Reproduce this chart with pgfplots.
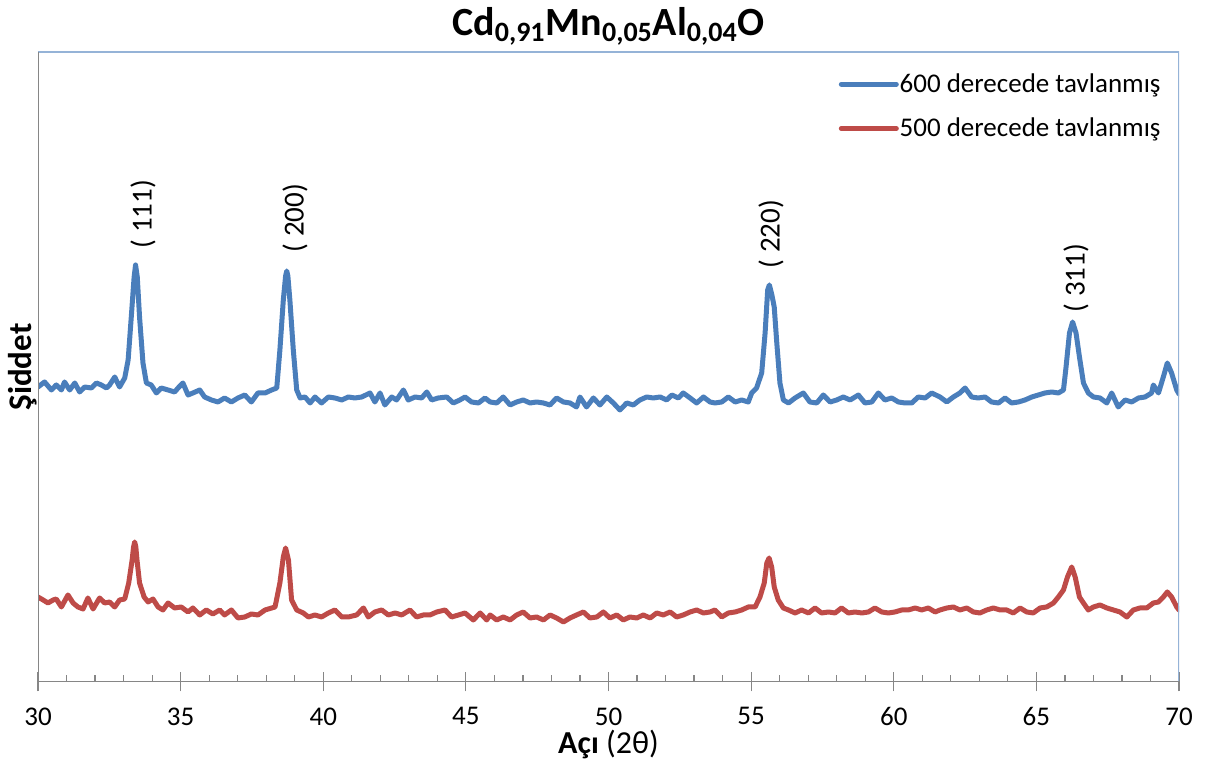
\documentclass[border=0pt]{standalone}
\usepackage{pgfplots}
\pgfplotsset{compat=1.18}
\usepackage{fontspec}
\setmainfont{Carlito}
\definecolor{xblue}{HTML}{4A7EBB}
\definecolor{xred}{HTML}{BE4B48}
\definecolor{axgray}{HTML}{868686}
\definecolor{boxblue}{HTML}{95B3D7}

\begin{document}
\begin{tikzpicture}
\begin{axis}[
scale only axis,
width=570.5bp,height=315bp,
xmin=30,xmax=70,ymin=0,ymax=630,
xtick={30,35,...,70},
ytick=\empty,
xtick pos=bottom,
tick align=center,
major tick length=9.5bp,
extra x ticks={31,32,33,34,36,37,38,39,41,42,43,44,46,47,48,49,51,52,53,54,56,57,58,59,61,62,63,64,66,67,68,69},
extra x tick labels={},
extra x tick style={tick align=inside,major tick length=3.5bp},
tick style={axgray,line width=0.6bp},
axis line style={draw=none},
/pgf/number format/assume math mode=true,
ticklabel style={font=\fontsize{13.5bp}{16bp}\selectfont},
xticklabel style={yshift=-4.5bp},
xlabel={\textbf{Açı} (2θ)},
xlabel style={font=\fontsize{16bp}{19bp}\selectfont,at={(rel axis cs:0.5,0)},anchor=center,yshift=-31.5bp},
ylabel={\textbf{Şiddet}},
ylabel style={font=\fontsize{16.5bp}{20bp}\selectfont,at={(rel axis cs:0,0.5)},anchor=center,yshift=7.5bp},
title={\textbf{Cd\textsubscript{0,91}Mn\textsubscript{0,05}Al\textsubscript{0,04}O}},
title style={font=\fontsize{20bp}{23bp}\selectfont,at={(0.5,1)},anchor=center,yshift=7bp},
legend style={at={(0.7015,0.968)},anchor=north west,draw=none,fill=none,inner sep=0pt,
  font=\fontsize{13.5bp}{16bp}\selectfont,row sep=10.5bp,
  nodes={inner sep=0.4bp}},
legend cell align=left,
legend image code/.code={\draw[#1] (0bp,0bp) -- (27.5bp,0bp);},
every axis plot/.append style={line width=2.5bp,line join=round,line cap=round},
]
\addplot[xblue] coordinates {
(30.00,295) (30.23,300) (30.47,292) (30.64,297) (30.82,292) (30.93,300) (31.11,292)
(31.29,299) (31.46,290) (31.64,295) (31.87,294) (32.05,299) (32.22,297) (32.40,294)
(32.51,297) (32.69,305) (32.86,295) (33.04,304) (33.16,322) (33.27,365) (33.37,405)
(33.42,417) (33.48,405) (33.56,365) (33.68,319) (33.80,299) (33.97,297) (34.15,289)
(34.32,294) (34.56,292) (34.79,290) (34.91,294) (35.08,299) (35.26,287) (35.43,289)
(35.67,292) (35.84,285) (36.08,282) (36.31,280) (36.54,284) (36.78,280) (37.01,284)
(37.25,287) (37.48,280) (37.71,289)
(37.96,289) (38.19,292) (38.37,294) (38.48,332) (38.60,382) (38.68,406) (38.72,411)
(38.76,406) (38.83,382) (38.95,332) (39.07,292) (39.19,284) (39.36,285) (39.54,279)
(39.71,285) (39.94,279) (40.18,285) (40.41,284) (40.65,282) (40.88,285) (41.11,284)
(41.35,285) (41.64,289) (41.81,280) (41.99,289) (42.16,277) (42.40,285) (42.57,282)
(42.81,292) (42.98,282) (43.22,285) (43.45,284) (43.63,290) (43.80,282) (44.03,284)
(44.33,285) (44.56,279) (44.79,282) (44.97,285) (45.20,280) (45.44,279) (45.67,284)
(45.85,280) (46.08,279) (46.31,285) (46.55,277) (46.78,280) (47.01,282) (47.25,279)
(47.48,280) (47.72,279) (47.95,277) (48.18,284) (48.42,280) (48.65,279) (48.88,275)
(49.00,285) (49.23,275) (49.47,284) (49.70,277) (49.94,285) (50.17,279) (50.40,272)
(50.64,279) (50.87,277) (51.10,282) (51.34,285) (51.57,284) (51.81,285) (52.04,282)
(52.22,287) (52.45,284) (52.62,289) (52.86,284) (53.09,279) (53.33,285) (53.56,280)
(53.73,279) (53.97,280) (54.20,285) (54.44,280) (54.67,282) (54.90,280) (55.02,289)
(55.19,294) (55.37,309) (55.49,349) (55.58,392) (55.64,397) (55.72,388) (55.81,375)
(55.90,339) (56.01,299) (56.13,282) (56.31,279) (56.54,284) (56.83,289) (57.06,280)
(57.30,279) (57.53,287) (57.77,280) (58.00,282) (58.23,285) (58.47,282) (58.76,287)
(58.99,279) (59.23,280) (59.46,289) (59.69,282) (59.93,284) (60.16,280) (60.40,279)
(60.63,279) (60.86,285) (61.10,284) (61.33,289)
(61.62,285) (61.86,280) (62.09,285) (62.32,289) (62.50,294) (62.73,285) (62.96,284)
(63.20,285) (63.43,280) (63.67,279) (63.90,284) (64.13,279) (64.37,280) (64.60,282)
(64.84,285) (65.07,287) (65.30,289) (65.54,290) (65.77,289) (65.95,292) (66.04,315)
(66.16,349) (66.27,360) (66.39,349) (66.51,325) (66.65,299) (66.82,289) (67.00,285)
(67.23,284) (67.47,279) (67.64,289) (67.87,275) (68.11,282) (68.34,280) (68.58,284)
(68.81,285) (69.04,289) (69.10,297) (69.28,289) (69.45,305) (69.59,319) (69.74,309)
(69.92,292) (70.00,288)
};
\addlegendentry{600 derecede tavlanmış}
\addplot[xred] coordinates {
(30.00,85) (30.18,82) (30.35,79) (30.53,82) (30.64,83) (30.82,75) (31.05,87) (31.23,79)
(31.40,75) (31.58,73) (31.75,84) (31.93,73) (32.16,84) (32.34,79) (32.51,80) (32.69,75)
(32.86,82) (33.04,83) (33.18,99) (33.30,122) (33.35,135) (33.39,140) (33.43,135)
(33.47,122) (33.56,99) (33.72,85) (33.86,80) (34.03,83) (34.21,75) (34.38,72) (34.56,79)
(34.79,74) (35.02,75) (35.26,70) (35.43,74) (35.67,67) (35.90,72) (36.13,68) (36.37,72)
(36.54,67) (36.78,72) (37.01,64) (37.25,65) (37.48,68) (37.71,67)
(37.96,72) (38.31,75) (38.48,99) (38.60,125) (38.68,134) (38.78,122) (38.89,82)
(39.07,72) (39.30,69) (39.48,65) (39.71,67) (39.94,65) (40.18,69) (40.41,72) (40.65,65)
(40.88,65) (41.17,67) (41.41,74) (41.58,65) (41.81,70) (42.05,72) (42.28,67) (42.52,69)
(42.75,67) (43.04,72) (43.27,65) (43.51,67) (43.74,67) (43.98,70) (44.27,72) (44.50,65)
(44.74,67) (44.97,69) (45.26,62) (45.50,69) (45.73,62)
(45.85,67) (46.08,62) (46.31,65) (46.55,62) (46.78,67) (47.01,70) (47.25,64) (47.48,65)
(47.72,62) (47.95,67) (48.18,64) (48.42,60) (48.65,64) (48.88,67) (49.12,70) (49.35,64)
(49.59,65) (49.82,70) (50.05,64) (50.29,67) (50.52,62) (50.75,65) (50.99,64) (51.22,67)
(51.46,64) (51.69,69) (51.92,67) (52.16,70) (52.39,65) (52.62,67) (52.86,70) (53.09,72)
(53.33,69) (53.56,70)
(53.73,72) (53.97,65) (54.20,69) (54.44,70) (54.67,72) (54.90,75) (55.14,75) (55.31,85)
(55.46,99) (55.55,119) (55.63,124) (55.72,115) (55.81,95) (55.95,82) (56.13,74)
(56.31,72) (56.54,69) (56.77,72) (57.01,69) (57.24,74) (57.47,69) (57.71,70) (57.94,69)
(58.17,74) (58.41,69) (58.64,70) (58.88,69) (59.11,70) (59.34,74) (59.58,70) (59.81,69)
(60.04,70) (60.28,72) (60.51,72) (60.75,74) (60.98,72) (61.21,74) (61.45,70)
(61.62,72) (61.86,74) (62.09,75) (62.32,72) (62.56,74) (62.79,70) (63.02,69) (63.26,72)
(63.49,74) (63.73,72) (63.96,72) (64.19,69) (64.43,74) (64.66,70) (64.89,69) (65.13,74)
(65.36,75) (65.60,79) (65.77,85) (65.95,92) (66.09,105) (66.24,115) (66.36,105)
(66.51,85) (66.65,79) (66.82,72) (67.00,75) (67.23,77) (67.47,74) (67.70,72) (67.93,70)
(68.17,65) (68.40,72) (68.63,74) (68.87,74) (69.10,79) (69.28,80) (69.45,85) (69.59,90)
(69.74,85) (69.92,75) (70.00,72)
};
\addlegendentry{500 derecede tavlanmış}
\node[rotate=90,font=\fontsize{14.5bp}{17bp}\selectfont] at (axis cs:33.68,468) {( 111)};
\node[rotate=90,font=\fontsize{14.5bp}{17bp}\selectfont] at (axis cs:39.01,464) {( 200)};
\node[rotate=90,font=\fontsize{14.5bp}{17bp}\selectfont] at (axis cs:55.70,448) {( 220)};
\node[rotate=90,font=\fontsize{14.5bp}{17bp}\selectfont] at (axis cs:66.39,404) {( 311)};
\draw[boxblue,line width=1bp] (rel axis cs:0,1) -- (rel axis cs:1,1) -- (rel axis cs:1,0);
\draw[axgray,line width=1bp] (rel axis cs:0,1) -- (rel axis cs:0,0) -- (rel axis cs:1,0);
\end{axis}
\pgfresetboundingbox
\path[use as bounding box] ([xshift=-19bp,yshift=-41bp]current axis.south west) rectangle ([xshift=17.5bp,yshift=26bp]current axis.north east);
\end{tikzpicture}
\end{document}
